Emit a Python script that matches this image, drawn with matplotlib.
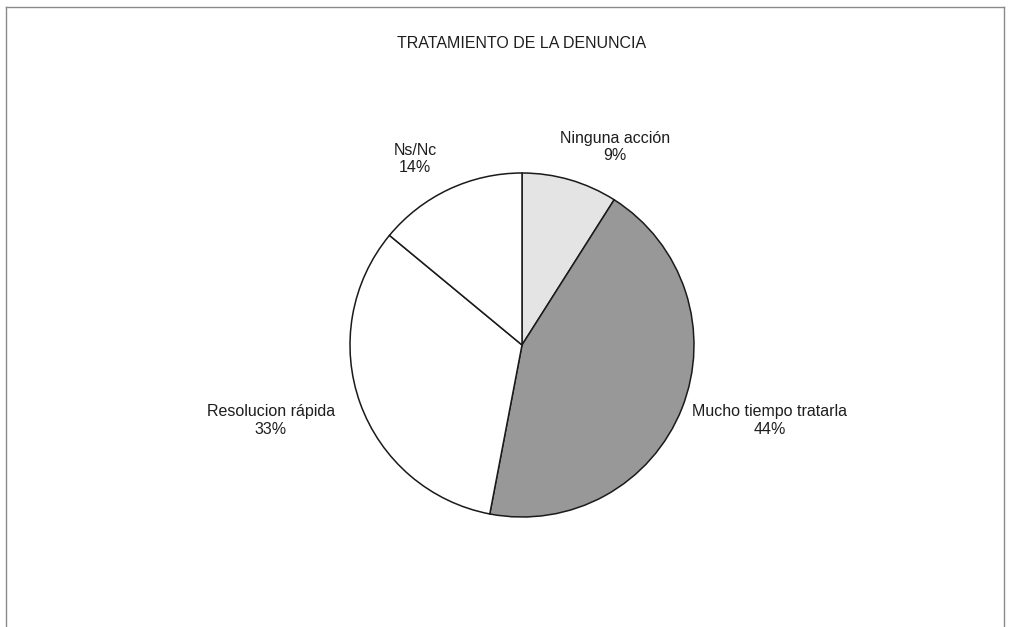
import matplotlib.pyplot as plt
from matplotlib.lines import Line2D

# data
labels = ['Ninguna acción', 'Mucho tiempo tratarla', 'Resolucion rápida', 'Ns/Nc']
shares = [9, 44, 33, 14]
colors = ['#e4e4e4', '#989898', '#ffffff', '#ffffff']
# label anchor points, in units of the pie radius
label_pos = [(0.54, 1.15), (1.44, -0.44), (-1.46, -0.44), (-0.62, 1.08)]

plt.rcParams['font.family'] = ['Liberation Sans', 'DejaVu Sans']

W, H = 1026, 627
fig = plt.figure(figsize=(W / 100, H / 100), dpi=100)
ax = fig.add_axes([0, 0, 1, 1])

# pie centre and radius in pixels
cx, cy, r = 522, H - 345, 172

ax.pie(shares, colors=colors, startangle=90, counterclock=False, radius=1,
       wedgeprops=dict(edgecolor='#1a1a1a', linewidth=1.1))
ax.set_aspect('auto')
ax.set_xlim(-cx / r, (W - cx) / r)
ax.set_ylim(-cy / r, (H - cy) / r)
ax.axis('off')

for lab, val, (x, y) in zip(labels, shares, label_pos):
    ax.text(x, y, f'{lab}\n{val}%', ha='center', va='center',
            fontsize=11.5, color='#1e1e1e', linespacing=1.2)

fig.text(522 / W, 1 - 43 / H, 'TRATAMIENTO DE LA DENUNCIA', ha='center',
         va='center', fontsize=11.5, color='#1e1e1e')

# outer frame of the chart area
fx0, fx1, fy0 = 6 / W, 1004 / W, 1 - 7 / H
for xs, ys in [([fx0, fx1], [fy0, fy0]), ([fx0, fx0], [fy0, 0]), ([fx1, fx1], [fy0, 0])]:
    fig.add_artist(Line2D(xs, ys, transform=fig.transFigure, color='#8a8a8a', lw=1))

fig.savefig('out.png', dpi=100)
